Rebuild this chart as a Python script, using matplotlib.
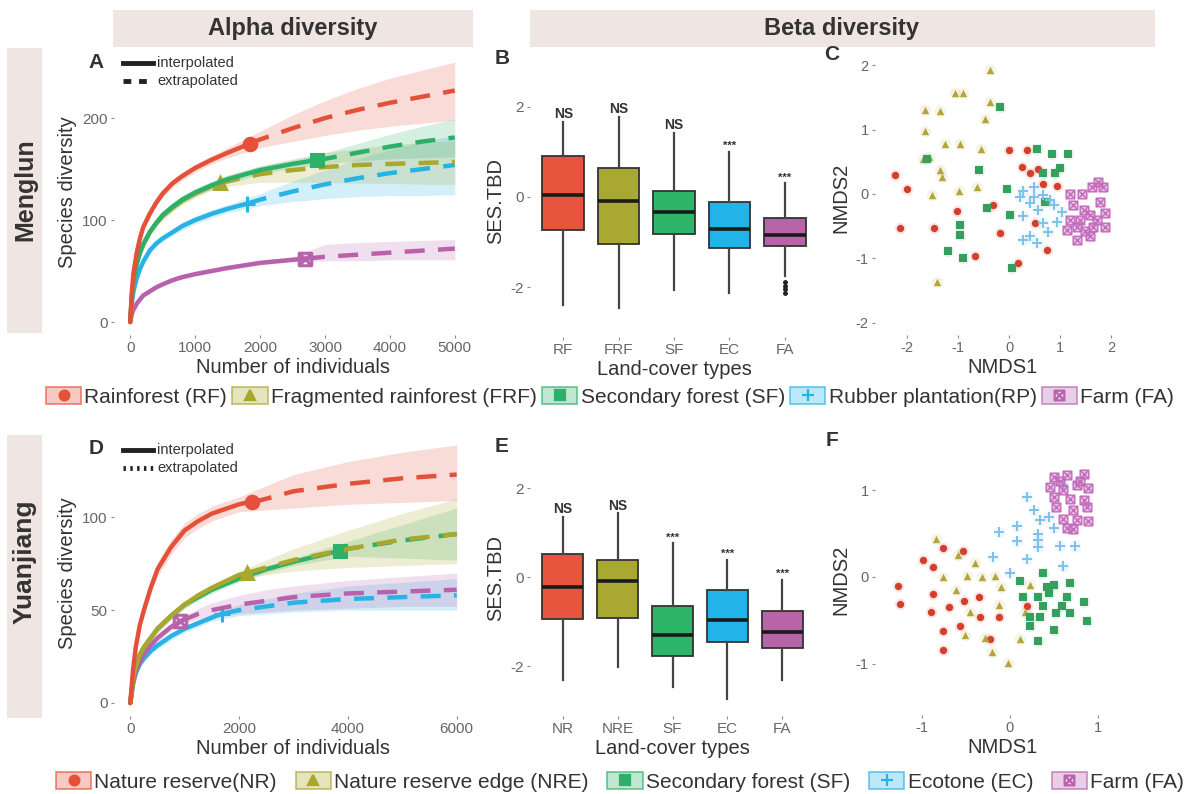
import numpy as np
import matplotlib
matplotlib.use('Agg')
import matplotlib.pyplot as plt
from matplotlib.patches import Patch, Rectangle
from matplotlib.lines import Line2D
from matplotlib.path import Path
from matplotlib.colors import to_rgba

plt.rcParams['font.family'] = ['Liberation Sans', 'DejaVu Sans']
plt.rcParams['axes.unicode_minus'] = False

# ---------------- data ----------------
# Menglun rarefaction (panel A)
mg_n = [0, 25, 50, 100, 150, 200, 300, 400, 500, 650, 800, 1000, 1250, 1500, 2000, 2500, 3000, 3500, 4000, 4500, 5000]
mg_rf = [0, 30, 48, 68, 82, 93, 106, 117, 126, 136, 143, 151, 159, 166, 179, 190, 200, 208, 215, 221, 227]
mg_rf_lo = [0, 28, 46, 65, 79, 90, 103, 114, 122, 132, 139, 147, 155, 161, 171, 177, 183, 188, 192, 195, 198]
mg_rf_hi = [0, 32, 50, 71, 85, 96, 109, 120, 130, 140, 147, 155, 163, 171, 187, 203, 217, 229, 239, 247, 255]
mg_frf = [0, 25, 40, 57, 68, 76, 88, 97, 104, 112, 119, 126, 133, 138, 145, 149, 152, 154, 155, 156, 157]
mg_frf_lo = [0, 23, 38, 54, 65, 73, 85, 94, 100, 108, 115, 122, 129, 133, 137, 137, 137, 136, 136, 135, 135]
mg_frf_hi = [0, 27, 42, 60, 71, 79, 91, 100, 108, 116, 123, 130, 137, 144, 153, 160, 166, 170, 174, 176, 178]
mg_sf = [0, 25, 40, 57, 68, 76, 88, 97, 105, 113, 120, 127, 134, 140, 149, 155, 160, 166, 172, 177, 181]
mg_sf_lo = [0, 23, 38, 54, 65, 73, 85, 94, 101, 109, 116, 123, 130, 136, 145, 151, 155, 158, 160, 161, 162]
mg_sf_hi = [0, 27, 42, 60, 71, 79, 91, 100, 109, 117, 124, 131, 138, 144, 153, 159, 166, 175, 184, 192, 199]
mg_rp = [0, 19, 30, 43, 52, 59, 70, 77, 82, 88, 94, 100, 106, 111, 120, 128, 135, 141, 146, 150, 154]
mg_rp_lo = [0, 17, 28, 40, 49, 56, 67, 74, 79, 85, 90, 96, 102, 107, 114, 118, 121, 123, 124, 124, 125]
mg_rp_hi = [0, 21, 32, 46, 55, 62, 73, 80, 85, 91, 98, 104, 110, 115, 126, 138, 149, 160, 169, 177, 183]
mg_fa = [0, 8, 12, 18, 22, 26, 30, 34, 37, 41, 44, 47, 50, 53, 58, 61, 64, 66, 68, 70, 72]
mg_fa_lo = [0, 7, 11, 16, 20, 24, 28, 32, 35, 39, 42, 45, 48, 51, 56, 59, 60, 60, 61, 61, 61]
mg_fa_hi = [0, 9, 13, 20, 24, 28, 32, 36, 39, 43, 46, 49, 52, 55, 60, 64, 76, 78, 79, 80, 81]
# observed sample size / richness (end of interpolation)
mg_ref_n = [1846, 1385, 2877, 1800, 2692]
mg_ref_s = [175, 136, 159, 116, 62]

# Yuanjiang rarefaction (panel D)
yj_n = [0, 50, 100, 175, 250, 375, 500, 750, 1000, 1250, 1500, 2000, 2500, 3000, 4000, 5000, 6000]
yj_nr = [0, 18, 30, 42, 50, 62, 72, 84, 93, 98, 102, 107, 110, 114, 118, 121, 123]
yj_nr_lo = [0, 16, 28, 39, 47, 59, 68, 80, 89, 94, 98, 103, 104, 105, 107, 108, 109]
yj_nr_hi = [0, 20, 32, 45, 53, 65, 76, 88, 97, 102, 106, 111, 117, 123, 130, 135, 139]
yj_nre = [0, 13, 20, 26, 30, 35, 40, 47, 53, 58, 62, 69, 73, 77, 83, 88, 91]
yj_nre_lo = [0, 11, 18, 24, 28, 33, 38, 45, 51, 56, 60, 67, 69, 71, 73, 74, 75]
yj_nre_hi = [0, 15, 22, 28, 32, 37, 42, 49, 55, 60, 64, 71, 77, 83, 93, 102, 110]
yj_sf = [0, 13, 20, 26, 30, 35, 40, 47, 53, 57, 61, 67, 72, 76, 83, 87.5, 91]
yj_sf_lo = [0, 11, 18, 24, 28, 33, 38, 45, 51, 55, 59, 65, 70, 74, 79, 78, 77]
yj_sf_hi = [0, 15, 22, 28, 32, 37, 42, 49, 55, 59, 63, 69, 74, 78, 87, 96, 105]
yj_ec = [0, 10, 16, 21, 24, 28, 31, 36, 40, 43, 46, 50, 52, 54, 56, 57, 58]
yj_ec_lo = [0, 9, 15, 19, 22, 26, 29, 34, 38, 41, 44, 47, 48, 49, 50, 50, 50]
yj_ec_hi = [0, 11, 17, 23, 26, 30, 33, 38, 42, 45, 48, 53, 56, 59, 63, 65, 67]
yj_fa = [0, 11, 17, 22, 26, 31, 35, 41, 45, 48, 50, 53, 55, 57, 59, 60, 61]
yj_fa_lo = [0, 10, 16, 20, 24, 29, 33, 39, 43, 45, 46, 48, 49, 50, 51, 52, 52]
yj_fa_hi = [0, 12, 18, 24, 28, 33, 37, 43, 47, 51, 54, 58, 61, 63, 66, 68, 70]
yj_ref_n = [2238, 2140, 3850, 1680, 920]
yj_ref_s = [108.5, 70, 82, 48, 44]

# SES.TBD boxplots (panel B, Menglun)
b_labels = ['RF', 'FRF', 'SF', 'EC', 'FA']
b_whislo = [-2.40, -2.47, -2.07, -2.14, -1.75]
b_q1 = [-0.73, -1.04, -0.82, -1.14, -1.10]
b_med = [0.05, -0.10, -0.34, -0.72, -0.84]
b_q3 = [0.91, 0.64, 0.13, -0.12, -0.47]
b_whishi = [1.67, 1.78, 1.42, 1.00, 0.30]
b_fliers = [[], [], [], [], [-1.88, -1.97, -2.05, -2.14]]
b_sig = ['NS', 'NS', 'NS', '***', '***']

# SES.TBD boxplots (panel E, Yuanjiang)
e_labels = ['NR', 'NRE', 'SF', 'EC', 'FA']
e_whislo = [-2.31, -2.01, -2.46, -2.73, -2.31]
e_q1 = [-0.95, -0.91, -1.78, -1.45, -1.60]
e_med = [-0.22, -0.09, -1.30, -0.97, -1.23]
e_q3 = [0.53, 0.38, -0.65, -0.29, -0.76]
e_whishi = [1.36, 1.43, 0.76, 0.38, -0.07]
e_fliers = [[], [], [], [], []]
e_sig = ['NS', 'NS', '***', '***', '***']

# NMDS (panel C, Menglun)
c_rf_x = [-2.24, -2.01, -0.01, 0.35, 0.25, 0.41, 0.57, 0.67, 0.93, -0.31, -1.03, -2.14, -1.48, 0.51, -0.18, -0.67, 0.18, 0.74]
c_rf_y = [0.29, 0.08, 0.68, 0.69, 0.42, 0.33, 0.39, 0.16, 0.13, -0.17, -0.27, -0.53, -0.53, -0.45, -0.61, -0.97, -1.07, -0.87]
c_frf_x = [-0.37, -1.06, -0.90, -0.37, -1.65, -1.35, -0.47, -1.65, -1.25, -0.96, -0.55, -1.68, -1.58, -1.35, -1.32, -0.63, -0.99, -1.52, -1.42]
c_frf_y = [1.93, 1.56, 1.57, 1.43, 1.30, 1.29, 1.17, 0.97, 0.78, 0.78, 0.70, 0.55, 0.58, 0.37, 0.27, 0.11, 0.04, -0.02, -1.37]
c_sf_x = [-0.18, 0.54, 0.84, 1.16, -1.61, -0.60, 0.67, 0.90, 1.00, -0.05, 0.71, -0.44, 0.02, -0.96, -0.96, -1.19, -0.90, 0.05]
c_sf_y = [1.35, 0.70, 0.62, 0.62, 0.55, 0.37, 0.32, 0.32, 0.40, 0.07, -0.13, -0.22, -0.33, -0.48, -0.64, -0.89, -1.00, -1.15]
c_rp_x = [0.28, 0.48, 0.67, 0.41, 0.57, 0.87, 1.03, 0.28, 0.67, 0.77, 0.41, 0.54, 0.28, 0.93, 0.48, 0.22, 0.80]
c_rp_y = [0.04, 0.11, -0.02, -0.14, -0.25, -0.17, -0.28, -0.35, -0.45, -0.59, -0.66, -0.76, -0.71, -0.43, -0.04, -0.04, -0.09]
c_fa_x = [1.20, 1.43, 1.62, 1.75, 1.85, 1.26, 1.78, 1.46, 1.59, 1.88, 1.13, 1.33, 1.49, 1.65, 1.88, 1.33, 1.59, 1.20, 1.39, 1.72]
c_fa_y = [0.00, 0.00, 0.11, 0.19, 0.11, -0.17, -0.12, -0.25, -0.33, -0.30, -0.56, -0.51, -0.58, -0.51, -0.51, -0.71, -0.66, -0.40, -0.40, -0.40]

# NMDS (panel F, Yuanjiang)
f_nr_x = [-0.76, -0.54, -0.99, -0.88, -1.28, -1.26, -0.88, -0.90, -0.69, -0.53, -0.35, -0.34, -0.12, -0.57, -0.76, -0.23, -0.76, 0.20]
f_nr_y = [0.33, 0.30, 0.20, 0.11, -0.10, -0.31, -0.20, -0.40, -0.35, -0.28, -0.23, -0.46, -0.46, -0.56, -0.62, -0.71, -0.84, -0.33]
f_nre_x = [-0.84, -0.59, -0.40, -0.76, -0.49, -0.32, -0.17, -0.61, -0.10, -0.46, -0.13, -0.51, -0.29, -0.21, -0.02, 0.11, 0.23, 0.17]
f_nre_y = [0.44, 0.25, 0.16, 0.00, 0.01, 0.00, 0.01, -0.15, -0.12, -0.40, -0.32, -0.67, -0.70, -0.86, -0.99, -0.72, -0.09, -0.40]
f_sf_x = [0.11, 0.38, 0.50, 0.69, 0.15, 0.32, 0.44, 0.65, 0.84, 0.38, 0.53, 0.69, 0.88, 0.23, 0.34, 0.23, 0.50, 0.32, 0.59, 0.42]
f_sf_y = [-0.05, 0.04, -0.09, -0.07, -0.23, -0.23, -0.19, -0.23, -0.29, -0.34, -0.42, -0.41, -0.51, -0.46, -0.46, -0.57, -0.61, -0.74, -0.34, -0.11]
f_ec_x = [0.19, 0.27, 0.08, -0.13, 0.08, 0.34, 0.44, 0.50, 0.32, 0.32, 0.57, 0.74, -0.19, 0.19, 0.00, 0.61, 0.61, 0.32]
f_ec_y = [0.92, 0.77, 0.59, 0.52, 0.41, 0.66, 0.69, 0.56, 0.50, 0.35, 0.36, 0.36, 0.23, 0.21, 0.04, 0.13, 1.06, 0.43]
f_fa_x = [0.50, 0.65, 0.84, 0.46, 0.61, 0.76, 0.89, 0.50, 0.69, 0.84, 0.53, 0.72, 0.88, 0.61, 0.76, 0.89, 0.65, 0.72, 0.80, 0.57]
f_fa_y = [1.15, 1.17, 1.19, 1.04, 1.00, 1.06, 1.02, 0.92, 0.90, 0.89, 0.81, 0.77, 0.81, 0.67, 0.66, 0.64, 0.56, 0.55, 1.11, 1.10]

mg_legend = ['Rainforest (RF)', 'Fragmented rainforest (FRF)', 'Secondary forest (SF)',
             'Rubber plantation(RP)', 'Farm (FA)']
yj_legend = ['Nature reserve(NR)', 'Nature reserve edge (NRE)', 'Secondary forest (SF)',
             'Ecotone (EC)', 'Farm (FA)']

# ---------------- style ----------------
line_cols = ['#E4503A', '#A9A72C', '#2DB06A', '#27B3E6', '#B862AC']
box_cols = ['#E8553F', '#A8A832', '#2DB56A', '#22B3E8', '#B765A8']
pt_cols = ['#D43F2C', '#B3A53A', '#35A05E', '#7DC2EA', '#C46CBC']
strip_col = '#EFE6E3'
tick_col = '#666666'
text_col = '#333333'

# square with a cross, like ggplot shape 7
sq_x = Path([(-1, -1), (1, -1), (1, 1), (-1, 1), (-1, -1), (-1, -1), (1, 1), (-1, 1), (1, -1)],
            [Path.MOVETO, Path.LINETO, Path.LINETO, Path.LINETO, Path.CLOSEPOLY,
             Path.MOVETO, Path.LINETO, Path.MOVETO, Path.LINETO])
mark_shapes = ['o', '^', 's', '+', sq_x]

W, H = 1184, 794
fig = plt.figure(figsize=(W / 100, H / 100), dpi=100)


def px_axes(left, top, right, bottom):
    return fig.add_axes([left / W, 1 - bottom / H, (right - left) / W, (bottom - top) / H])


def px_box(left, top, right, bottom):
    fig.add_artist(Rectangle((left / W, 1 - bottom / H), (right - left) / W, (bottom - top) / H,
                             transform=fig.transFigure, facecolor=strip_col, edgecolor='none', zorder=0))


def style_axes(ax, size=11):
    for sp in ax.spines.values():
        sp.set_visible(False)
    ax.tick_params(length=2.5, width=0.8, color='#888888', labelcolor=tick_col, labelsize=size, pad=2)


def plot_rarefaction(ax, n, curves, ref_n, ref_s, order, dash):
    n = np.array(n)
    for i in order:
        s, lo, hi = curves[i]
        s = np.array(s)
        c = line_cols[i]
        pre = n < ref_n[i]
        ax.fill_between(n, lo, hi, color=c, alpha=0.2, lw=0)
        ax.plot(np.append(n[pre], ref_n[i]), np.append(s[pre], ref_s[i]), color=c, lw=3.2,
                solid_capstyle='round', solid_joinstyle='round')
        ax.plot(np.insert(n[~pre], 0, ref_n[i]), np.insert(s[~pre], 0, ref_s[i]), color=c, lw=3.2,
                ls=(0, dash))
        filled = i < 3
        ax.plot([ref_n[i]], [ref_s[i]], ls='none', marker=mark_shapes[i], ms=9 if i != 3 else 11,
                color=c, mfc=c if filled else 'none', mec=c, mew=2.2)


def plot_box(ax, labels, lo, q1, med, q3, hi, fliers, sig):
    stats = [dict(whislo=lo[i], q1=q1[i], med=med[i], q3=q3[i], whishi=hi[i], fliers=fliers[i])
             for i in range(len(labels))]
    bp = ax.bxp(stats, positions=range(1, len(labels) + 1), widths=0.75, patch_artist=True,
                showcaps=False,
                boxprops=dict(edgecolor='#333333', linewidth=1.3),
                medianprops=dict(color='#1a1a1a', linewidth=2.6),
                whiskerprops=dict(color='#444444', linewidth=1.6),
                flierprops=dict(marker='o', markersize=2.5, markerfacecolor='#222222',
                                markeredgecolor='#222222'))
    for patch, c in zip(bp['boxes'], box_cols):
        patch.set_facecolor(c)
    for i, lab in enumerate(sig):
        ax.text(i + 1, hi[i] + 0.02, lab, ha='center', va='bottom',
                fontsize=10 if lab == 'NS' else 8, color=text_col, fontweight='bold')
    ax.set_xticks(range(1, len(labels) + 1))
    ax.set_xticklabels(labels)
    ax.set_yticks([-2, 0, 2])
    ax.set_xlim(0.4, len(labels) + 0.6)
    ax.set_ylabel('SES.TBD', fontsize=14.5, color=text_col, labelpad=4)
    ax.set_xlabel('Land-cover types', fontsize=14.5, color=text_col, labelpad=2)


def plot_nmds(ax, groups):
    for i, (x, y) in enumerate(groups):
        c = pt_cols[i]
        ax.scatter(x, y, s=70, color=c, alpha=0.12, lw=0, marker='o')
        if i == 3:
            ax.scatter(x, y, s=55, color=c, marker='+', linewidths=1.4)
        elif i == 4:
            ax.scatter(x, y, s=38, facecolors=to_rgba(c, 0.35), edgecolors=c, marker=sq_x, linewidths=1.0)
        else:
            ax.scatter(x, y, s=28, color=c, marker=mark_shapes[i], lw=0)
    ax.set_xlabel('NMDS1', fontsize=14.5, color=text_col, labelpad=2)
    ax.set_ylabel('NMDS2', fontsize=14.5, color=text_col, labelpad=4)


# ---------------- strips ----------------
px_box(113, 10, 473, 47)
px_box(530, 10, 1155, 47)
px_box(7, 48, 42, 333)
px_box(7, 435, 42, 718)
fig.text(293 / W, 1 - 29 / H, 'Alpha diversity', ha='center', va='center', fontsize=17,
         fontweight='bold', color=text_col)
fig.text(842 / W, 1 - 29 / H, 'Beta diversity', ha='center', va='center', fontsize=17,
         fontweight='bold', color=text_col)
fig.text(25 / W, 1 - 190 / H, 'Menglun', ha='center', va='center', rotation=90, fontsize=18,
         fontweight='bold', color=text_col)
fig.text(25 / W, 1 - 562 / H, 'Yuanjiang', ha='center', va='center', rotation=90, fontsize=19,
         fontweight='bold', color=text_col)

# ---------------- panel A ----------------
axA = px_axes(114, 49, 471, 335)
plot_rarefaction(axA, mg_n,
                 [(mg_rf, mg_rf_lo, mg_rf_hi), (mg_frf, mg_frf_lo, mg_frf_hi), (mg_sf, mg_sf_lo, mg_sf_hi),
                  (mg_rp, mg_rp_lo, mg_rp_hi), (mg_fa, mg_fa_lo, mg_fa_hi)],
                 mg_ref_n, mg_ref_s, [4, 3, 1, 2, 0], (4.5, 3))
axA.set_xlim(-250, 5250)
axA.set_ylim(-12.75, 267.75)
axA.set_xticks([0, 1000, 2000, 3000, 4000, 5000])
axA.set_yticks([0, 100, 200])
style_axes(axA)
axA.set_xlabel('Number of individuals', fontsize=14.5, color=text_col, labelpad=2)
axA.set_ylabel('Species diversity', fontsize=14.5, color=text_col, labelpad=4)

# ---------------- panel D ----------------
axD = px_axes(114, 430, 473, 716)
plot_rarefaction(axD, yj_n,
                 [(yj_nr, yj_nr_lo, yj_nr_hi), (yj_nre, yj_nre_lo, yj_nre_hi), (yj_sf, yj_sf_lo, yj_sf_hi),
                  (yj_ec, yj_ec_lo, yj_ec_hi), (yj_fa, yj_fa_lo, yj_fa_hi)],
                 yj_ref_n, yj_ref_s, [3, 4, 2, 1, 0], (4.5, 3))
axD.set_xlim(-300, 6300)
axD.set_ylim(-7, 147)
axD.set_xticks([0, 2000, 4000, 6000])
axD.set_yticks([0, 50, 100])
style_axes(axD)
axD.set_xlabel('Number of individuals', fontsize=14.5, color=text_col, labelpad=2)
axD.set_ylabel('Species diversity', fontsize=14.5, color=text_col, labelpad=4)

# interpolated / extrapolated keys
for ytop, dash in [(63, (1.6, 1.6)), (450, (0.5, 0.9))]:
    yf0 = 1 - ytop / H
    yf1 = 1 - (ytop + 18) / H
    fig.add_artist(Line2D([123 / W, 153 / W], [yf0, yf0], transform=fig.transFigure,
                          color='#222222', lw=3.5))
    fig.add_artist(Line2D([123 / W, 153 / W], [yf1, yf1], transform=fig.transFigure,
                          color='#222222', lw=3.5, ls=(0, dash)))
    fig.text(157 / W, yf0, 'interpolated', va='center', fontsize=10.5, color=text_col)
    fig.text(157 / W, yf1, 'extrapolated', va='center', fontsize=10.5, color=text_col)

# ---------------- panel B ----------------
axB = px_axes(530, 65, 818, 337)
plot_box(axB, b_labels, b_whislo, b_q1, b_med, b_q3, b_whishi, b_fliers, b_sig)
axB.set_ylim(-3.11, 2.93)
style_axes(axB)

# ---------------- panel E ----------------
axE = px_axes(530, 440, 815, 716)
plot_box(axE, e_labels, e_whislo, e_q1, e_med, e_q3, e_whishi, e_fliers, e_sig)
axE.set_ylim(-3.12, 3.08)
style_axes(axE)

# ---------------- panel C ----------------
axC = px_axes(875, 60, 1130, 335)
plot_nmds(axC, [(c_rf_x, c_rf_y), (c_frf_x, c_frf_y), (c_sf_x, c_sf_y), (c_rp_x, c_rp_y), (c_fa_x, c_fa_y)])
axC.set_xlim(-2.63, 2.37)
axC.set_ylim(-2.19, 2.08)
axC.set_xticks([-2, -1, 0, 1, 2])
axC.set_yticks([-2, -1, 0, 1, 2])
style_axes(axC, 10.5)

# ---------------- panel F ----------------
axF = px_axes(875, 445, 1130, 715)
plot_nmds(axF, [(f_nr_x, f_nr_y), (f_nre_x, f_nre_y), (f_sf_x, f_sf_y), (f_ec_x, f_ec_y), (f_fa_x, f_fa_y)])
axF.set_xlim(-1.54, 1.37)
axF.set_ylim(-1.59, 1.52)
axF.set_xticks([-1, 0, 1])
axF.set_yticks([-1, 0, 1])
style_axes(axF, 10.5)

# panel letters
for lab, x, y in [('A', 96, 63), ('B', 502, 58), ('C', 832, 55), ('D', 96, 448), ('E', 502, 446), ('F', 832, 440)]:
    fig.text(x / W, 1 - y / H, lab, ha='center', va='center', fontsize=15, fontweight='bold', color=text_col)


# ---------------- legends ----------------
def key_handles():
    hs = []
    for i in range(5):
        c = line_cols[i]
        box = Patch(facecolor=to_rgba(c, 0.3), edgecolor=to_rgba(c, 0.7), linewidth=1.2)
        mk = Line2D([], [], ls='none', marker=mark_shapes[i], color=c, ms=7 if i != 3 else 9,
                    mfc=c if i < 3 else 'none', mec=c, mew=1.6)
        hs.append((box, mk))
    return hs


fig.legend(key_handles(), mg_legend, loc='center', bbox_to_anchor=(610 / W, 1 - 397 / H), ncol=5,
           frameon=False, fontsize=15, handlelength=1.7, handleheight=0.9, handletextpad=0.15,
           columnspacing=0.25, labelcolor=text_col, borderpad=0, borderaxespad=0)
fig.legend(key_handles(), yj_legend, loc='center', bbox_to_anchor=(620 / W, 1 - 782 / H), ncol=5,
           frameon=False, fontsize=15, handlelength=1.7, handleheight=0.9, handletextpad=0.15,
           columnspacing=0.9, labelcolor=text_col, borderpad=0, borderaxespad=0)

fig.savefig('out.png', dpi=100)
